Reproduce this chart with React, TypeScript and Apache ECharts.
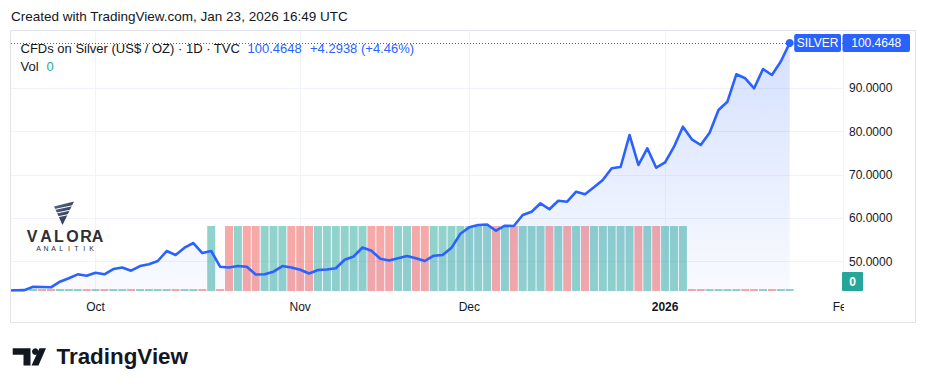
import React, { useEffect, useRef } from 'react';
import * as echarts from 'echarts';

const dates = [
  '2025-09-17', '2025-09-18', '2025-09-19', '2025-09-22', '2025-09-23', '2025-09-24', '2025-09-25', '2025-09-26', '2025-09-29', '2025-09-30',
  '2025-10-01', '2025-10-02', '2025-10-03', '2025-10-06', '2025-10-07', '2025-10-08', '2025-10-09', '2025-10-10', '2025-10-13', '2025-10-14',
  '2025-10-15', '2025-10-16', '2025-10-17', '2025-10-20', '2025-10-21', '2025-10-22', '2025-10-23', '2025-10-24', '2025-10-27', '2025-10-28',
  '2025-10-29', '2025-10-30', '2025-10-31',
  '2025-11-03', '2025-11-04', '2025-11-05', '2025-11-06', '2025-11-07', '2025-11-10', '2025-11-11', '2025-11-12', '2025-11-13', '2025-11-14',
  '2025-11-17', '2025-11-18', '2025-11-19', '2025-11-20', '2025-11-21', '2025-11-24', '2025-11-25', '2025-11-26', '2025-11-28',
  '2025-12-01', '2025-12-02', '2025-12-03', '2025-12-04', '2025-12-05', '2025-12-08', '2025-12-09', '2025-12-10', '2025-12-11', '2025-12-12',
  '2025-12-15', '2025-12-16', '2025-12-17', '2025-12-18', '2025-12-19', '2025-12-22', '2025-12-23', '2025-12-24', '2025-12-26', '2025-12-29',
  '2025-12-30', '2025-12-31',
  '2026-01-02', '2026-01-05', '2026-01-06', '2026-01-07', '2026-01-08', '2026-01-09', '2026-01-12', '2026-01-13', '2026-01-14', '2026-01-15',
  '2026-01-16', '2026-01-20', '2026-01-21', '2026-01-22', '2026-01-23',
  '2026-01-26', '2026-01-27', '2026-01-28', '2026-01-29', '2026-01-30', '2026-02-02', '2026-02-03',
];

const prices = [
  43.35, 43.4, 43.45, 44.23, 44.16, 44.09, 45.39, 46.17, 47.09, 46.77,
  47.46, 47.09, 48.3, 48.66, 47.92, 49.0, 49.4, 50.16, 52.47, 51.55, 53.23, 54.31, 52.0, 52.47, 48.85, 48.66, 49.0, 48.85, 47.05, 47.12, 47.69, 49.0, 48.66,
  48.15, 47.28, 48.09, 48.2, 48.48, 50.46, 51.2, 53.28, 52.54, 50.69, 50.28, 50.78, 51.31, 50.78, 50.16, 51.38, 51.55, 53.2, 56.46,
  57.94, 58.47, 58.58, 57.15, 58.3, 58.24, 60.77, 61.53, 63.47, 62.09, 64.07, 63.84, 66.15, 65.57, 67.16, 68.85, 71.55, 71.85, 79.23, 72.31, 76.16, 71.68,
  72.93, 76.53, 81.14, 78.24, 76.92, 79.76, 84.99, 86.91, 93.23, 92.31, 90.0, 94.45, 93.07, 96.171, 100.4648,
];

const volumes = [
  0, 0, 0, 0, 0, 0, 0, 0, 0, 0,
  0, 0, 0, 0, 0, 0, 0, 0, 0, 0, 0, 0, 0, 1, 0, 1, 1, 1, 1, 1, 1, 1, 1,
  1, 1, 1, 1, 1, 1, 1, 1, 1, 1, 1, 1, 1, 1, 1, 1, 1, 1, 1,
  1, 1, 1, 1, 1, 1, 1, 1, 1, 1, 1, 1, 1, 1, 1, 1, 1, 1, 1, 1, 1, 1,
  1, 1, 1, 0, 0, 0, 0, 0, 0, 0, 0, 0, 0, 0, 0,
];

const monthTickDates = ['2025-10-01', '2025-11-03', '2025-12-01', '2026-01-02', '2026-02-02'];
const monthTickLabels = ['Oct', 'Nov', 'Dec', '2026', 'Feb'];
const yearTickLabels = ['2026'];
const priceTicks = [50, 60, 70, 80, 90];

const symbolName = 'SILVER';
const seriesTitle = 'CFDs on Silver (US$ / OZ) · 1D · TVC';
const headerText = 'Created with TradingView.com, Jan 23, 2026 16:49 UTC';

const UP = 'rgba(38,166,154,0.5)';
const DOWN = 'rgba(239,83,80,0.5)';
const BLUE = '#2962ff';
const TEAL = '#26a69a';
const INK = '#131722';
const FONT = '"Liberation Sans", Arial, sans-serif';

export default function App() {
  const ref = useRef<HTMLDivElement>(null);

  useEffect(() => {
    const chart = echarts.init(ref.current!, null, { renderer: 'svg' });
    const lastIdx = prices.length - 1;
    const last = prices[lastIdx];
    const prev = prices[lastIdx - 1];
    const chg = last - prev;
    const pct = (chg / prev) * 100;
    const tickIdx = monthTickDates.map((d) => dates.indexOf(d));
    const labelOf: Record<number, string> = {};
    tickIdx.forEach((t, k) => (labelOf[t] = monthTickLabels[k]));

    const gridL = 11;
    const gridR = 844;
    const gridT = 31;
    const gridB = 292;
    const volTop = 226;
    const volBottom = 291;
    const W = 926;
    const H = 391;
    const xMin = 0.506;
    const xMax = 94.1;
    const yMin = 43.01;
    const yMax = 103.22;

    const priceData = prices.map((p, i) => [i, p]);
    const volData = volumes.map((v, i) => ({
      value: [i, v],
      itemStyle: { color: i === 0 || prices[i] >= prices[i - 1] ? UP : DOWN },
    }));

    chart.setOption({
      animation: false,
      backgroundColor: '#ffffff',
      textStyle: { fontFamily: FONT },
      grid: [
        { left: gridL, right: W - gridR, top: gridT, bottom: H - gridB, containLabel: false },
        { left: gridL, right: W - gridR, top: volTop, bottom: H - volBottom, containLabel: false },
      ],
      xAxis: [
        {
          type: 'value',
          gridIndex: 0,
          min: xMin,
          max: xMax,
          axisLine: { show: false },
          axisTick: { show: false, customValues: tickIdx },
          axisLabel: {
            customValues: tickIdx,
            formatter: (v: number) => {
              const s = labelOf[Math.round(v)] || '';
              return yearTickLabels.includes(s) ? '{b|' + s + '}' : s;
            },
            color: INK,
            fontSize: 12,
            fontFamily: FONT,
            margin: 9,
            rich: { b: { fontWeight: 'bold', fontSize: 12, color: INK, fontFamily: FONT } },
          },
          splitLine: { show: true, lineStyle: { color: '#f0f3fa', width: 1 } },
        },
        {
          type: 'value',
          gridIndex: 1,
          min: xMin,
          max: xMax,
          show: false,
          splitLine: { show: false },
        },
      ],
      yAxis: [
        {
          type: 'value',
          gridIndex: 0,
          position: 'right',
          min: yMin,
          max: yMax,
          axisLine: { show: false },
          axisTick: { show: false, customValues: priceTicks },
          axisLabel: {
            customValues: priceTicks,
            formatter: (v: number) => v.toFixed(4),
            color: INK,
            fontSize: 12,
            fontFamily: FONT,
            margin: 5,
            align: 'left',
          },
          splitLine: { show: true, lineStyle: { color: '#f0f3fa', width: 1 } },
        },
        {
          type: 'value',
          gridIndex: 1,
          min: 0,
          max: Math.max(...volumes),
          show: false,
          splitLine: { show: false },
        },
      ],
      series: [
        {
          type: 'bar',
          name: 'Vol',
          xAxisIndex: 1,
          yAxisIndex: 1,
          data: volData,
          barWidth: 8,
          barMinHeight: 2,
          clip: true,
          z: 1,
          silent: true,
        },
        {
          type: 'line',
          name: symbolName,
          xAxisIndex: 0,
          yAxisIndex: 0,
          data: priceData,
          showSymbol: false,
          clip: true,
          z: 3,
          lineStyle: { color: BLUE, width: 2.6, join: 'round' },
          itemStyle: { color: BLUE },
          areaStyle: {
            color: new echarts.graphic.LinearGradient(0, 0, 0, 1, [
              { offset: 0, color: 'rgba(41,98,255,0.28)' },
              { offset: 1, color: 'rgba(41,98,255,0.04)' },
            ]),
          },
          markLine: {
            silent: true,
            symbol: ['none', 'none'],
            label: { show: false },
            lineStyle: { color: BLUE, width: 1, type: [1, 2] },
            data: [{ yAxis: last }],
          },
          markPoint: {
            silent: true,
            symbol: 'circle',
            symbolSize: 8,
            itemStyle: { color: BLUE },
            label: { show: false },
            data: [{ coord: [lastIdx, last] }],
          },
        },
      ],
    });

    const yLast = chart.convertToPixel({ yAxisIndex: 0 }, last) as number;
    const xLast = chart.convertToPixel({ xAxisIndex: 0 }, lastIdx) as number;
    const yVol = chart.convertToPixel({ yAxisIndex: 1 }, volumes[lastIdx]) as number;

    const txt = (x: number, y: number, text: string, fill: string, font: string, align = 'left', z = 100) => ({
      type: 'text',
      x,
      y,
      z,
      silent: true,
      style: { text, fill, font, align, verticalAlign: 'middle' },
    });

    const valoraLetters = ['V', 'A', 'L', 'O', 'R', 'A'];
    const valoraX = [32, 46, 59, 72.5, 86, 97.5];
    const analitik = ['A', 'N', 'A', 'L', 'I', 'T', 'I', 'K'];

    chart.setOption({
      graphic: [
        txt(11, 16.7, headerText, INK, '13.5px ' + FONT),
        // mask anything drawn left of the pane
        {
          type: 'rect',
          z: 89,
          silent: true,
          shape: { x: 0, y: 28, width: 10.5, height: 300 },
          style: { fill: '#ffffff' },
        },
        {
          type: 'rect',
          z: 90,
          silent: true,
          shape: { x: 10.5, y: 30.5, width: 905, height: 292 },
          style: { fill: 'none', stroke: '#e0e3eb', lineWidth: 1 },
        },
        // clip time labels beyond the pane
        {
          type: 'rect',
          z: 95,
          silent: true,
          shape: { x: gridR, y: gridB + 2, width: 70, height: 27 },
          style: { fill: '#ffffff' },
        },
        // legend
        txt(20.5, 48.3, seriesTitle, INK, '13px ' + FONT),
        txt(247.5, 48.3, last.toFixed(4), BLUE, '13px ' + FONT),
        txt(310, 48.3, '+' + chg.toFixed(4) + ' (+' + pct.toFixed(2) + '%)', BLUE, '13px ' + FONT),
        txt(20.5, 66.7, 'Vol', INK, '13px ' + FONT),
        txt(46.5, 66.7, String(volumes[lastIdx]), TEAL, '13px ' + FONT),
        // price labels
        {
          type: 'rect',
          z: 100,
          silent: true,
          shape: { x: xLast + 4.5, y: yLast - 9, width: gridR - 3 - (xLast + 4.5), height: 18, r: 2 },
          style: { fill: BLUE },
        },
        txt((xLast + 4.5 + gridR - 3) / 2, yLast, symbolName, '#ffffff', '12px ' + FONT, 'center', 101),
        {
          type: 'rect',
          z: 100,
          silent: true,
          shape: { x: gridR - 1.5, y: yLast - 9, width: 67.5, height: 18, r: 2 },
          style: { fill: BLUE },
        },
        txt(gridR - 1.5 + 33.75, yLast, last.toFixed(4), '#ffffff', '12px ' + FONT, 'center', 101),
        {
          type: 'rect',
          z: 100,
          silent: true,
          shape: { x: gridR - 2, y: yVol - 19, width: 21, height: 19, r: 1 },
          style: { fill: TEAL },
        },
        txt(gridR - 2 + 10.5, yVol - 9.5, String(volumes[lastIdx]), '#ffffff', 'bold 12px ' + FONT, 'center', 101),
        // Valora watermark
        {
          type: 'polygon',
          z: 50,
          silent: true,
          shape: { points: [[54, 206.5], [74, 201.5], [62.5, 225]] },
          style: {
            fill: new echarts.graphic.LinearGradient(0, 0, 1, 1, [
              { offset: 0, color: '#5a6a8c' },
              { offset: 1, color: '#1e2a4a' },
            ]),
          },
        },
        ...[209.5, 213.5, 217.5].map((yy) => ({
          type: 'line',
          z: 51,
          silent: true,
          shape: { x1: 52, y1: yy + 0.5, x2: 76, y2: yy - 4.5 },
          style: { stroke: '#ffffff', lineWidth: 1 },
        })),
        ...valoraLetters.map((l, k) => txt(valoraX[k], 236.5, l, '#2e2e33', '600 16px ' + FONT, 'center', 50)),
        ...analitik.map((l, k) => txt(38.5 + k * 7.6, 248, l, '#2e2e33', '7px ' + FONT, 'center', 50)),
        // TradingView logo
        {
          type: 'polygon',
          z: 100,
          silent: true,
          shape: { points: [[12.7, 348.3], [30.5, 348.3], [30.5, 365.5], [23.5, 365.5], [23.5, 354.8], [12.7, 354.8]] },
          style: { fill: INK },
        },
        {
          type: 'circle',
          z: 100,
          silent: true,
          shape: { cx: 35.3, cy: 351.6, r: 3.3 },
          style: { fill: INK },
        },
        {
          type: 'polygon',
          z: 100,
          silent: true,
          shape: { points: [[39.5, 348.3], [46, 348.3], [38.5, 365.5], [31.5, 365.5]] },
          style: { fill: INK },
        },
        txt(56.5, 356.5, 'TradingView', INK, 'bold 22.4px ' + FONT),
      ],
    });

    return () => chart.dispose();
  }, []);

  return (
    <div
      ref={ref}
      style={{ position: 'absolute', left: 0, top: 0, width: 926, height: 391, background: '#ffffff' }}
    />
  );
}
